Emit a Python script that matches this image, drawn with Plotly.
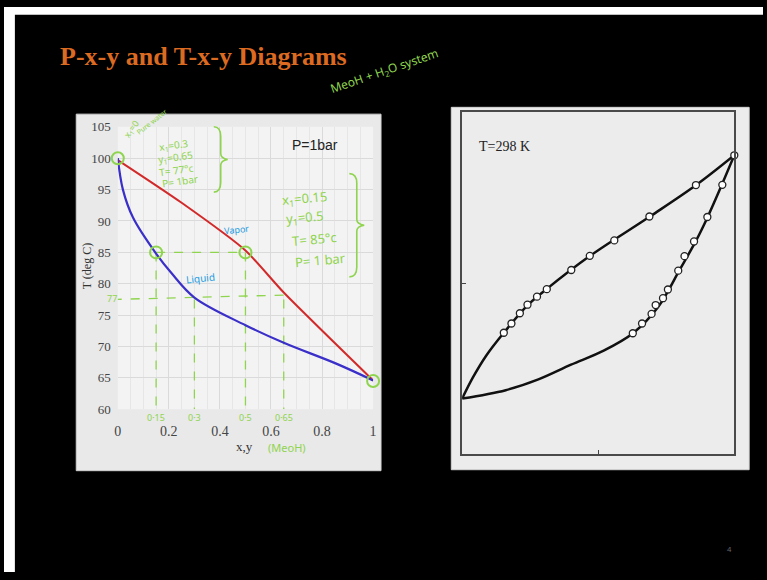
import plotly.graph_objects as go

W, H = 767, 580


def PX(x):
    return x / W


def PY(y):
    return 1 - y / H


# ---------------- Data: left T-x-y diagram (MeOH + H2O, P = 1 bar) ----------------
liq_x = [0.0, 0.02, 0.06, 0.15, 0.21, 0.30, 0.50, 0.65, 0.86, 1.0]
liq_T = [100.0, 95.0, 90.5, 84.8, 81.7, 77.8, 73.4, 70.6, 67.2, 64.6]
vap_x = [0.0, 0.25, 0.50, 0.65, 1.0]
vap_T = [99.7, 92.9, 85.3, 78.6, 64.6]

key_x = [0.0, 0.15, 0.50, 1.0]
key_T = [100.0, 85.0, 85.0, 64.5]

tie1_x = [0.15, 0.50]   # x1, y1 at 85 C
tie1_T = 85.0
tie2_x = [0.30, 0.65]   # x1, y1 at 77 C
tie2_T = 77.5
T_min = 60.0

y_ticks = [60, 65, 70, 75, 80, 85, 90, 95, 100, 105]
x_ticks = [0, 0.2, 0.4, 0.6, 0.8, 1.0]

# ---------------- Data: right P-x-y diagram (T = 298 K), P in kPa ----------------
bub_line_x = [0.0, 0.04, 0.09, 0.153, 0.24, 0.31, 0.47, 0.69, 0.86, 1.0]
bub_line_P = [3.25, 4.5, 5.8, 7.10, 8.70, 9.65, 11.6, 13.9, 15.74, 17.48]
dew_line_x = [0.0, 0.16, 0.28, 0.40, 0.52, 0.63, 0.72, 0.80, 0.86, 0.90, 0.95, 1.0]
dew_line_P = [3.25, 3.74, 4.37, 5.23, 6.05, 7.10, 8.60, 10.8, 12.5, 13.8, 15.6, 17.48]

bub_pts_x = [0.153, 0.181, 0.212, 0.240, 0.275, 0.311, 0.401, 0.469, 0.559, 0.688, 0.859, 1.0]
bub_pts_P = [7.10, 7.64, 8.24, 8.74, 9.21, 9.65, 10.77, 11.6, 12.5, 13.9, 15.74, 17.48]
dew_pts_x = [0.627, 0.661, 0.696, 0.711, 0.738, 0.756, 0.794, 0.817, 0.852, 0.901, 0.956]
dew_pts_P = [7.07, 7.64, 8.20, 8.72, 9.12, 9.63, 10.73, 11.58, 12.44, 13.87, 15.75]

GREEN = "#8fd44e"
CYAN = "#1e9be0"
HAND = "Noto Sans"

fig = go.Figure()

# ---- left chart traces ----
dash_style = dict(color=GREEN, width=1.3, dash="dash")
fig.add_trace(go.Scatter(x=tie1_x, y=[tie1_T, tie1_T], mode="lines", line=dash_style,
                         xaxis="x", yaxis="y", hoverinfo="skip"))
for xv in tie1_x:
    fig.add_trace(go.Scatter(x=[xv, xv], y=[tie1_T, T_min], mode="lines", line=dash_style,
                             xaxis="x", yaxis="y", hoverinfo="skip"))
fig.add_trace(go.Scatter(x=[-0.02, tie2_x[1]], y=[tie2_T, tie2_T + 0.7], mode="lines",
                         line=dash_style, xaxis="x", yaxis="y", hoverinfo="skip", cliponaxis=False))
for xv in tie2_x:
    fig.add_trace(go.Scatter(x=[xv, xv], y=[tie2_T, T_min], mode="lines", line=dash_style,
                             xaxis="x", yaxis="y", hoverinfo="skip"))

fig.add_trace(go.Scatter(x=vap_x, y=vap_T, mode="lines", line=dict(color="#d22a2a", width=2),
                         line_shape="spline", line_smoothing=0.6, xaxis="x", yaxis="y", name="Vapor"))
fig.add_trace(go.Scatter(x=liq_x, y=liq_T, mode="lines", line=dict(color="#3a2fc8", width=2.2),
                         line_shape="spline", xaxis="x", yaxis="y", name="Liquid"))
fig.add_trace(go.Scatter(x=key_x, y=key_T, mode="markers", cliponaxis=False,
                         marker=dict(symbol="circle-open", size=12, color=GREEN, line=dict(width=2)),
                         xaxis="x", yaxis="y"))

# ---- right chart traces ----
fig.add_trace(go.Scatter(x=bub_line_x, y=bub_line_P, mode="lines", line=dict(color="#111", width=2.5),
                         line_shape="spline", xaxis="x2", yaxis="y2"))
fig.add_trace(go.Scatter(x=dew_line_x, y=dew_line_P, mode="lines", line=dict(color="#111", width=2.5),
                         line_shape="spline", xaxis="x2", yaxis="y2"))
for xs, ys in [(bub_pts_x, bub_pts_P), (dew_pts_x, dew_pts_P)]:
    fig.add_trace(go.Scatter(x=xs, y=ys, mode="markers", cliponaxis=False,
                             marker=dict(symbol="circle", size=7, color="white",
                                         line=dict(color="#222", width=1.3)),
                             xaxis="x2", yaxis="y2"))

# ---- shapes: slide background pieces ----
shapes = []
shapes.append(dict(type="rect", xref="paper", yref="paper", x0=0, x1=PX(11), y0=0, y1=1,
                   fillcolor="white", line_width=0, layer="below"))
shapes.append(dict(type="rect", xref="paper", yref="paper", x0=0, x1=1, y0=PY(8), y1=1,
                   fillcolor="white", line_width=0, layer="below"))
shapes.append(dict(type="rect", xref="paper", yref="paper", x0=PX(73), x1=PX(381), y0=PY(476), y1=PY(110),
                   fillcolor="#e9e9e9", line=dict(color="#d0d0d0", width=1), layer="below"))
shapes.append(dict(type="rect", xref="paper", yref="paper", x0=PX(115), x1=PX(373), y0=PY(413), y1=PY(123),
                   fillcolor="#f3f3f3", line_width=0, layer="below"))
shapes.append(dict(type="rect", xref="paper", yref="paper", x0=PX(452), x1=PX(753), y0=PY(475), y1=PY(103),
                   fillcolor="#ececec", line=dict(color="#d4d4d4", width=1), layer="below"))


def brace(xl, yt, yb, w):
    xm = xl + w * 0.5
    xr = xl + w
    ym = (yt + yb) / 2
    pts = [("M", xl, yt), ("Q", xm, yt), ("", xm, yt + 10), ("L", xm, ym - 6), ("Q", xm, ym - 1),
           ("", xr, ym), ("Q", xm, ym + 1), ("", xm, ym + 6), ("L", xm, yb - 10), ("Q", xm, yb),
           ("", xl, yb)]
    s = ""
    for cmd, x, y in pts:
        s += f"{cmd}{PX(x):.5f},{PY(y):.5f} "
    return s.strip()


shapes.append(dict(type="path", xref="paper", yref="paper", path=brace(212, 123, 190, 14),
                   line=dict(color=GREEN, width=1.6)))
shapes.append(dict(type="path", xref="paper", yref="paper", path=brace(349, 171, 277, 15),
                   line=dict(color=GREEN, width=1.6)))

# ---- annotations ----
ann = []


def A(text, x, y, size, color, font=HAND, angle=0, xanchor="center", **kw):
    ann.append(dict(text=text, x=PX(x), y=PY(y), xref="paper", yref="paper", showarrow=False,
                    font=dict(family=font, size=size, color=color), textangle=angle,
                    xanchor=xanchor, yanchor="middle", **kw))


A("<b>P-x-y and T-x-y Diagrams</b>", 55, 51, 26, "#dc6a20", font="Liberation Serif", xanchor="left")
A("MeoH + H<sub>2</sub>O system", 385, 66, 12, GREEN, angle=-19)

A("P=1bar", 314, 142, 14, "#222", font="Liberation Sans")
A("T (deg C)", 84, 266, 12, "#333", font="Liberation Serif", angle=-90)
A("x,y", 243, 451, 13, "#333", font="Liberation Serif")
A("(MeoH)", 286, 452, 11, GREEN)
A("x<sub>1</sub>=0", 129, 125, 9, GREEN, angle=-55)
A("Pure water", 150, 118, 7, GREEN, angle=-38)
A("x<sub>1</sub>=0.3", 171, 142, 10, GREEN, angle=-8)
A("y<sub>1</sub>=0.65", 173, 154, 10, GREEN, angle=-8)
A("T= 77°c", 174, 167, 10, GREEN, angle=-8)
A("P= 1bar", 178, 179, 10, GREEN, angle=-8)
A("x<sub>1</sub>=0.15", 304, 197, 13, GREEN, angle=-5)
A("y<sub>1</sub>=0.5", 304, 217, 13, GREEN, angle=-5)
A("T= 85°c", 314, 238, 13, GREEN, angle=-5)
A("P= 1 bar", 320, 260, 13, GREEN, angle=-5)
A("Vapor", 235, 228, 9, CYAN, angle=-6)
A("Liquid", 199, 278, 10, CYAN, angle=-6)
A("77", 109, 299, 9, GREEN)
for lab, xv in [("0·15", 0.15), ("0·3", 0.30), ("0·5", 0.50), ("0·65", 0.65)]:
    ann.append(dict(text=lab, x=xv, y=PY(421), xref="x", yref="paper", showarrow=False,
                    yanchor="middle", font=dict(family=HAND, size=9, color=GREEN)))

A("T=298 K", 506, 143, 14, "#222", font="Liberation Sans Narrow")
A("4", 733, 557, 8, "#666", font="Liberation Sans")

fig.update_layout(
    width=W, height=H, margin=dict(l=0, r=0, t=0, b=0),
    paper_bgcolor="black", plot_bgcolor="rgba(0,0,0,0)",
    showlegend=False, shapes=shapes, annotations=ann,
    xaxis=dict(domain=[PX(115), PX(373)], range=[0, 1], tickvals=x_ticks,
               ticktext=[f"{v:g}" for v in x_ticks],
               showgrid=True, gridcolor="#dadada", gridwidth=1,
               minor=dict(dtick=0.05, showgrid=True, gridcolor="#e6e6e6"),
               zeroline=False, showline=False, ticks="",
               tickfont=dict(family="Liberation Serif", size=14, color="#444"), ticklabelstandoff=12),
    yaxis=dict(domain=[PY(413), PY(123)], range=[60, 105], tickvals=y_ticks,
               showgrid=True, gridcolor="#dadada", gridwidth=1,
               zeroline=False, showline=False, ticks="",
               tickfont=dict(family="Liberation Serif", size=13, color="#444"), ticklabelstandoff=6),
    xaxis2=dict(domain=[PX(463), PX(738)], range=[0, 1], tickvals=[0.5], showticklabels=False,
                ticks="inside", ticklen=4, tickcolor="#444", showgrid=False, zeroline=False,
                showline=True, mirror=True, linecolor="#4a4a4a", linewidth=2, anchor="y2"),
    yaxis2=dict(domain=[PY(459), PY(108)], range=[0, 20], tickvals=[10], showticklabels=False,
                ticks="inside", ticklen=4, tickcolor="#444", showgrid=False, zeroline=False,
                showline=True, mirror=True, linecolor="#4a4a4a", linewidth=2, anchor="x2"),
)

fig.write_html("out.html", config={"displayModeBar": False},
               post_script="document.body.style.margin='0';document.body.style.overflow='hidden';")
